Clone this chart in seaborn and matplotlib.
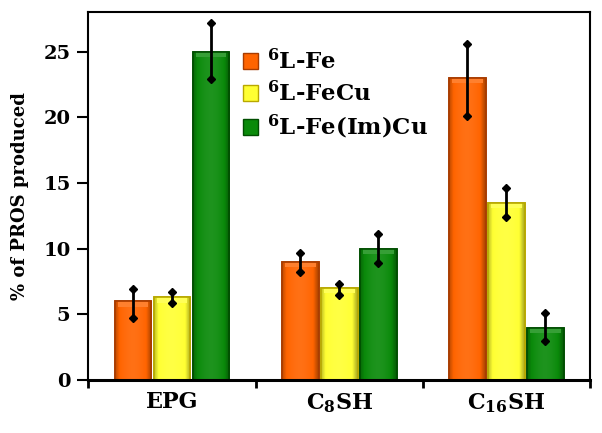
import matplotlib
matplotlib.use("Agg")
import matplotlib.pyplot as plt
import matplotlib.colors as mcolors
import seaborn as sns
import pandas as pd
import numpy as np

categories = ["EPG", r"C$_\mathbf{8}$SH", r"C$_\mathbf{16}$SH"]
series = [r"$^\mathbf{6}$L-Fe", r"$^\mathbf{6}$L-FeCu", r"$^\mathbf{6}$L-Fe(Im)Cu"]
fe = [6.0, 9.0, 23.0]
fecu = [6.3, 7.0, 13.5]
feimcu = [25.0, 10.0, 4.0]
fe_lo = [4.7, 8.2, 20.1]
fe_hi = [6.9, 9.7, 25.6]
fecu_lo = [5.9, 6.5, 12.4]
fecu_hi = [6.7, 7.3, 14.6]
feimcu_lo = [22.9, 8.9, 3.0]
feimcu_hi = [27.2, 11.1, 5.1]
yticks = [0, 5, 10, 15, 20, 25]

colors = ["#FF6400", "#FFFF33", "#0A8A0A"]
edges = ["#A83C00", "#B8A800", "#004E00"]

values = [fe, fecu, feimcu]
lows = [fe_lo, fecu_lo, feimcu_lo]
highs = [fe_hi, fecu_hi, feimcu_hi]

rows = []
for s, vals in zip(series, values):
    for c, v in zip(categories, vals):
        rows.append({"cat": c, "series": s, "val": v})
df = pd.DataFrame(rows)

sns.set_theme(style="white")
plt.rcParams["font.family"] = ["DejaVu Serif"]
plt.rcParams["font.weight"] = "bold"
plt.rcParams["mathtext.fontset"] = "dejavuserif"
plt.rcParams["text.color"] = "black"
plt.rcParams["axes.labelcolor"] = "black"
plt.rcParams["xtick.color"] = "black"
plt.rcParams["ytick.color"] = "black"

fig = plt.figure(figsize=(6.02, 4.33), dpi=100)
ax = fig.add_axes([0.147, 0.122, 0.833, 0.850])

sns.barplot(data=df, x="cat", y="val", hue="series", order=categories,
            hue_order=series, palette=colors, width=0.7, gap=0.06,
            errorbar=None, ax=ax, saturation=1)

ax.set_ylim(0, 28)
ax.set_xlim(-0.5, 2.5)


def shade(col, f):
    c = np.array(mcolors.to_rgb(col))
    if f >= 0:
        return c + (1 - c) * f
    return c * (1 + f)


# bar styling (bevel gradient) & error bars
for i, cont in enumerate(ax.containers):
    for j, p in enumerate(cont.patches):
        p.set_edgecolor(edges[i])
        p.set_linewidth(1.2)
        x0, w, h = p.get_x(), p.get_width(), p.get_height()
        t = np.linspace(0, 1, 60)
        prof = np.where(t < 0.12, -0.25 + 0.25 * (t / 0.12),
                        np.where(t > 0.85, -0.35 * (t - 0.85) / 0.15,
                                 0.08 * np.sin(np.pi * (t - 0.12) / 0.73)))
        img = np.array([[shade(colors[i], f) for f in prof]])
        im = ax.imshow(img, extent=[x0, x0 + w, 0, h], aspect="auto",
                       origin="lower", zorder=p.get_zorder() + 0.1, interpolation="bilinear")
        im.set_clip_path(p)
        ax.fill_between([x0 + w * 0.08, x0 + w * 0.92], h - 0.4, h - 0.05,
                        color=shade(colors[i], 0.18), lw=0, zorder=p.get_zorder() + 0.2)
        xc = x0 + w / 2
        ax.plot([xc, xc], [lows[i][j], highs[i][j]], color="black", lw=2,
                marker="D", markersize=4.5, zorder=5, solid_capstyle="butt")

for i, cont in enumerate(ax.containers):
    for p in cont.patches:
        r = plt.Rectangle((p.get_x(), 0), p.get_width(), p.get_height(), fill=False,
                          edgecolor=edges[i], lw=1.2, zorder=p.get_zorder() + 0.3)
        ax.add_patch(r)

ax.set_yticks(yticks)
ax.set_yticklabels([str(t) for t in yticks], fontsize=14, fontweight="bold")
ax.set_xticks([0, 1, 2])
ax.set_xticklabels(categories, fontsize=16, fontweight="bold")
ax.set_xticks([-0.5, 0.5, 1.5, 2.5], minor=True)
ax.tick_params(axis="x", which="major", length=0, pad=8)
ax.tick_params(axis="x", which="minor", length=6, width=2, direction="out", bottom=True)
ax.tick_params(axis="y", length=8, width=1.5, direction="out", left=True, pad=5)
ax.set_xlabel("")
ax.set_ylabel("% of PROS produced", fontsize=13, fontweight="bold", labelpad=10)
for sp in ax.spines.values():
    sp.set_color("black")
    sp.set_linewidth(1.5)
ax.spines["bottom"].set_linewidth(2.2)

leg = ax.legend(loc="upper left", bbox_to_anchor=(0.29, 0.925), frameon=False,
                fontsize=16.5, handlelength=0.65, handleheight=0.65,
                handletextpad=0.4, labelspacing=0.3, borderaxespad=0)
for t in leg.get_texts():
    t.set_fontweight("bold")
for h, e in zip(leg.legend_handles, edges):
    h.set_edgecolor(e)

fig.savefig("out.png", dpi=100)
